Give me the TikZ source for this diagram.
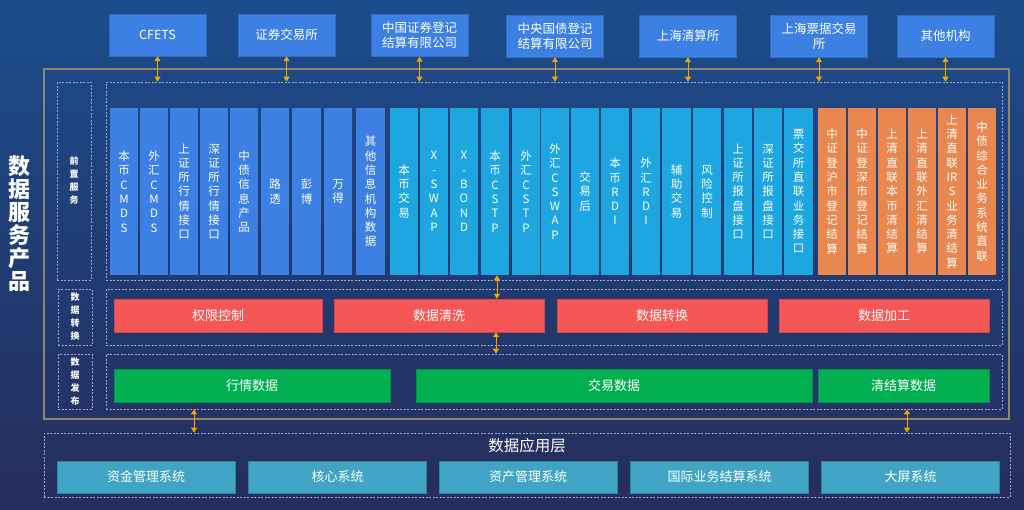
\documentclass[tikz,border=0pt]{standalone}
\usepackage{fontspec}
\usepackage{tikz}
\usetikzlibrary{arrows.meta, positioning, calc}

\newfontfamily\cjk{Noto Sans CJK SC}

\definecolor{bgtop}{HTML}{1B4C8C}
\definecolor{bgbot}{HTML}{262D5C}
\definecolor{topblue}{HTML}{3C80E4}
\definecolor{colA}{HTML}{3B80E2}
\definecolor{colB}{HTML}{1DA6E0}
\definecolor{colC}{HTML}{E8874F}
\definecolor{barred}{HTML}{F55656}
\definecolor{bargreen}{HTML}{00AF50}
\definecolor{appteal}{HTML}{40A5C5}
\definecolor{dashcol}{HTML}{A3AAD8}
\definecolor{goldline}{HTML}{8F8868}
\definecolor{linkcol}{HTML}{F0A500}

\tikzset{
    topbox/.style={fill=topblue, draw=topblue!85!black, text=white, align=center,
        minimum width=97pt, minimum height=42pt, inner sep=1pt,
        font=\cjk\fontsize{12.5}{15}\selectfont},
    colbox/.style={fill=#1, text=white, align=center, minimum width=28.5pt,
        minimum height=167pt, inner sep=0pt, font=\cjk\fontsize{11.5}{14.3}\selectfont},
    dashbox/.style={draw=dashcol, dash pattern=on 2pt off 1.5pt, line width=0.6pt,
        inner sep=0pt},
    sidelbl/.style={dashbox, minimum width=34pt, text=white, align=center,
        font=\cjk\bfseries\fontsize{9}{13}\selectfont},
    bar/.style={fill=#1, draw=#1!85!black, text=white, minimum height=33pt,
        inner sep=0pt, font=\cjk\fontsize{13}{15}\selectfont},
    appbox/.style={fill=appteal, draw=appteal!80!black, text=white, minimum width=178pt,
        minimum height=32pt, inner sep=0pt, font=\cjk\fontsize{13}{15}\selectfont},
    link/.style={{Triangle[width=6pt,length=5pt]}-{Triangle[width=6pt,length=5pt]},
        linkcol, line width=0.8pt},
}

\begin{document}
\begin{tikzpicture}[x=1pt, y=-1pt]
    \useasboundingbox (0,0) rectangle (1024,509);
    % fundo
    \shade[top color=bgtop, bottom color=bgbot] (0,0) rectangle (1024,509);

    % moldura dos produtos
    \draw[goldline, line width=1.2pt] (44,69) rectangle (1009,419);
    \node[text=white, align=center, font=\cjk\bfseries\fontsize{22}{23}\selectfont]
        (prodlbl) at (20,224) {数\\据\\服\\务\\产\\品};

    % instituicoes externas
    \node[topbox] (cfets) at (157.5,35) {CFETS};
    \node[topbox] (sse) at (286.5,35) {证券交易所};
    \node[topbox] (csdc) at (419.5,35.5) {中国证券登记\\结算有限公司};
    \node[topbox] (ccdc) at (555,36) {中央国债登记\\结算有限公司};
    \node[topbox] (shch) at (688,36) {上海清算所};
    \node[topbox] (shcpe) at (819,36) {上海票据交易\\所};
    \node[topbox] (other) at (945.5,36) {其他机构};

    % camadas
    \node[sidelbl, minimum height=198pt] (frontlbl) at (74,181) {前\\置\\服\\务};
    \node[dashbox, minimum width=896pt, minimum height=198pt] (front) at (554,181) {};
    \node[sidelbl, minimum height=56pt] (convlbl) at (75,317) {数\\据\\转\\换};
    \node[dashbox, minimum width=896pt, minimum height=56pt] (conv) at (554,317) {};
    \node[sidelbl, minimum height=55pt] (publbl) at (75,381.5) {数\\据\\发\\布};
    \node[dashbox, minimum width=896pt, minimum height=55pt] (pub) at (554,381.5) {};

    \foreach \inst in {cfets, sse, csdc, ccdc, shch, shcpe, other}
        \draw[link] (\inst.south) -- (\inst.south |- front.north);

    % colunas do front
    \foreach \cx/\lbl/\clr [count=\i] in {
        124/{本\\币\\C\\M\\D\\S}/colA, 154/{外\\汇\\C\\M\\D\\S}/colA,
        184/{上\\证\\所\\行\\情\\接\\口}/colA, 214/{深\\证\\所\\行\\情\\接\\口}/colA,
        244/{中\\债\\信\\息\\产\\品}/colA, 275/{路\\透}/colA, 306.5/{彭\\博}/colA,
        338/{万\\得}/colA, 370.5/{其\\他\\信\\息\\机\\构\\数\\据}/colA,
        404/{本\\币\\交\\易}/colB, 434/{X\\-\\S\\W\\A\\P}/colB,
        464/{X\\-\\B\\O\\N\\D}/colB, 495/{本\\币\\C\\S\\T\\P}/colB,
        526/{外\\汇\\C\\S\\T\\P}/colB, 555/{外\\汇\\C\\S\\W\\A\\P}/colB,
        585/{交\\易\\后}/colB, 615/{本\\币\\R\\D\\I}/colB, 646/{外\\汇\\R\\D\\I}/colB,
        676.5/{辅\\助\\交\\易}/colB, 707/{风\\险\\控\\制}/colB,
        738/{上\\证\\所\\报\\盘\\接\\口}/colB, 768/{深\\证\\所\\报\\盘\\接\\口}/colB,
        798.5/{票\\交\\所\\直\\联\\业\\务\\接\\口}/colB,
        832/{中\\证\\登\\沪\\市\\登\\记\\结\\算}/colC,
        862/{中\\证\\登\\深\\市\\登\\记\\结\\算}/colC,
        892/{上\\清\\直\\联\\本\\币\\清\\结\\算}/colC,
        922/{上\\清\\直\\联\\外\\汇\\清\\结\\算}/colC,
        952/{上\\清\\直\\联\\IR\\S\\业\\务\\清\\结\\算}/colC,
        982/{中\\债\\综\\合\\业\\务\\系\\统\\直\\联}/colC}
        \node[colbox=\clr] (c\i) at (\cx,191.5) {\lbl};

    % conversao
    \node[bar=barred, minimum width=208pt] (auth) at (218,315.5) {权限控制};
    \node[bar=barred, minimum width=210pt] (clean) at (439,315.5) {数据清洗};
    \node[bar=barred, minimum width=210pt] (trans) at (662,315.5) {数据转换};
    \node[bar=barred, minimum width=210pt] (proc) at (884,315.5) {数据加工};

    % publicacao
    \node[bar=bargreen, minimum width=276pt] (quote) at (252,385.5) {行情数据};
    \node[bar=bargreen, minimum width=396pt] (trade) at (614,385.5) {交易数据};
    \node[bar=bargreen, minimum width=171pt] (settle) at (903.5,385.5) {清结算数据};

    \draw[link] ([xshift=2pt]c13.south) -- ([xshift=2pt]c13.south |- clean.north);
    \coordinate (mid) at (496,0);
    \draw[link] (clean.south -| mid) -- (pub.north -| mid);

    % camada de aplicacao
    \node[dashbox, minimum width=966pt, minimum height=64pt] (app) at (527,465) {};
    \node[text=white, font=\cjk\fontsize{15.5}{17}\selectfont] (apptitle) at (527,446) {数据应用层};
    \node[appbox] (fund) at (146,477) {资金管理系统};
    \node[appbox] (core) at (337.5,477) {核心系统};
    \node[appbox] (asset) at (528,477) {资产管理系统};
    \node[appbox] (intl) at (719.5,477) {国际业务结算系统};
    \node[appbox] (screen) at (910.5,477) {大屏系统};

    \coordinate (lft) at (194,0);
    \coordinate (rgt) at (907,0);
    \draw[link] (pub.south -| lft) -- (app.north -| lft);
    \draw[link] (pub.south -| rgt) -- (app.north -| rgt);
\end{tikzpicture}
\end{document}
